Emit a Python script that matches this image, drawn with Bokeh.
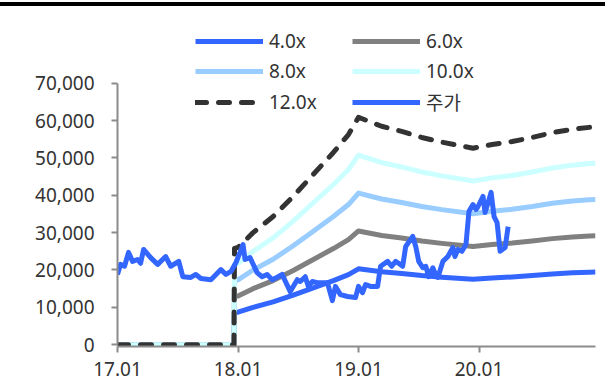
from bokeh.plotting import figure
from bokeh.models import Range1d, Legend, LegendItem, Label, FixedTicker, NumeralTickFormatter
from bokeh.embed import file_html
from bokeh.resources import INLINE

# ---- data (months since 2017.01) ----
x_tick_vals = [0, 12, 24, 36]
x_tick_labels = ["17.01", "18.01", "19.01", "20.01"]
y_ticks = [0, 10000, 20000, 30000, 40000, 50000, 60000, 70000]

band_month = [0, 11.6, 11.65, 12, 13.5, 15.5, 17.5, 19.5, 21.5, 23, 24, 26.3, 28.3,
              30.3, 32.3, 35.4, 37.3, 39.3, 41.3, 43.3, 45.3, 47, 47.6]
eps = [0, 0, 2150, 2170, 2500, 2860, 3310, 3800, 4290, 4690, 5075, 4875, 4760,
       4625, 4520, 4385, 4467, 4533, 4625, 4733, 4808, 4850, 4860]
multiples = [4.0, 6.0, 8.0, 10.0, 12.0]
band_labels = ["4.0x", "6.0x", "8.0x", "10.0x", "12.0x"]

price_month = [0.0, 0.3, 0.7, 1.1, 1.5, 2.0, 2.3, 2.6, 3.3, 4.0, 4.8, 5.3, 6.1, 6.5, 7.3,
               7.8, 8.3, 9.3, 10.3, 10.8, 11.3, 11.8, 12.5, 12.7, 13.2, 13.9, 14.4, 14.9,
               15.4, 16.0, 16.4, 17.2, 17.5, 17.9, 18.2, 18.7, 19.0, 19.4, 19.9, 20.9,
               21.4, 21.7, 22.2, 22.9, 23.7, 24.0, 24.4, 24.7, 25.2, 25.9, 26.2, 26.9,
               27.3, 27.7, 28.0, 28.4, 28.7, 29.4, 29.7, 30.0, 30.4, 30.7, 31.0, 31.4,
               31.6, 31.9, 32.4, 32.9, 33.4, 33.6, 33.9, 34.3, 34.7, 35.0, 35.4, 35.7,
               35.9, 36.4, 36.6, 36.9, 37.2, 37.5, 37.8, 38.1, 38.6, 38.9]
price_value = [18800, 21500, 21000, 24700, 22300, 22800, 21800, 25500, 23300, 21500, 23600,
               21000, 22300, 18200, 18000, 18800, 17700, 17400, 20100, 18800, 19600, 22000,
               26800, 22800, 23300, 19300, 18200, 18800, 17400, 18200, 18800, 14200, 15600,
               17400, 16900, 18200, 15600, 16900, 16600, 16600, 11800, 15600, 13400, 12900,
               12600, 15600, 13900, 16100, 15600, 15600, 21000, 22300, 21000, 22300, 21800,
               21000, 26300, 29000, 26300, 22300, 20600, 21000, 18200, 20600, 19300, 18000,
               22300, 23600, 26000, 23600, 25500, 25000, 26800, 35700, 37500, 36200, 37000,
               39700, 35400, 38000, 40800, 34300, 32700, 25000, 26000, 31600]

band_colors = ["#3366ff", "#808080", "#99ccff", "#ccffff", "#333333"]
price_color = "#3366ff"
FONT = "Noto Sans, Noto Sans CJK KR"
TXT = "#333333"
AXC = "#8c8c8c"

p = figure(width=605, height=384, output_backend="svg", toolbar_location=None,
           x_range=Range1d(0, 47.6), y_range=Range1d(-500, 88970),
           min_border_left=117, min_border_right=10, min_border_top=6, min_border_bottom=44)
p.styles = {"border-top": "4px solid #000000", "margin-top": "2px"}
p.background_fill_color = "white"
p.outline_line_color = None
p.xgrid.visible = False
p.ygrid.visible = False

renderers = []
for m, c, lab in zip(multiples, band_colors, band_labels):
    vals = [e * m for e in eps]
    if lab == "12.0x":
        r = p.line(band_month, vals, line_color=c, line_width=5, line_dash="11 12",
                   line_cap="round", line_join="round")
    else:
        r = p.line(band_month, vals, line_color=c, line_width=5, line_join="round")
    renderers.append((lab, r))

rp = p.line(price_month, price_value, line_color=price_color, line_width=5, line_join="round")
renderers.append(("주가", rp))

legend = Legend(items=[LegendItem(label=l, renderers=[r]) for l, r in renderers],
                orientation="horizontal", ncols=2, location=(78, 230))
legend.glyph_width = 68
legend.glyph_height = 20
legend.label_height = 20
legend.label_width = 79
legend.label_standoff = 6
legend.spacing = 4
legend.padding = 0
legend.margin = 0
legend.border_line_alpha = 0
legend.background_fill_alpha = 0
legend.label_text_font = FONT
legend.label_text_font_size = "19px"
legend.label_text_color = TXT
p.add_layout(legend, "center")

# axes
xa = p.xaxis[0]
xa.ticker = FixedTicker(ticks=x_tick_vals)
xa.major_label_overrides = {v: t for v, t in zip(x_tick_vals, x_tick_labels)}
ya = p.yaxis[0]
ya.ticker = FixedTicker(ticks=y_ticks)
ya.formatter = NumeralTickFormatter(format="0,0")
ya.bounds = (0, 70000)
for ax in (xa, ya):
    ax.axis_line_color = AXC
    ax.axis_line_width = 2
    ax.major_tick_line_color = AXC
    ax.major_tick_line_width = 2
    ax.major_tick_in = 0
    ax.major_tick_out = 6
    ax.minor_tick_line_color = None
    ax.major_label_text_font = FONT
    ax.major_label_text_font_size = "19px"
    ax.major_label_text_color = TXT
ya.major_label_standoff = 17
xa.major_label_standoff = 9

p.add_layout(Label(x=-2.26, y=76300, text="(원)", text_align="right", text_baseline="middle",
                   text_font=FONT, text_font_size="16px", text_font_style="bold",
                   text_color=TXT))

open("out.html", "w").write(file_html(p, INLINE))
